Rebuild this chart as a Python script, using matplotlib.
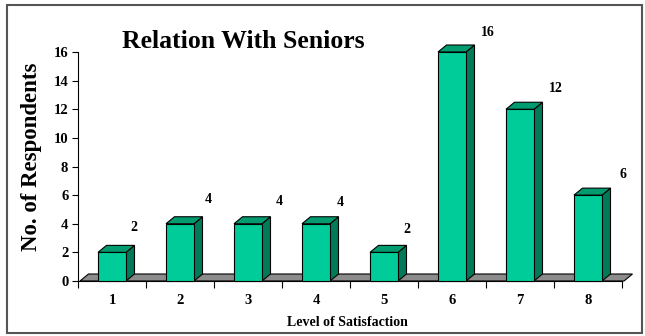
import matplotlib
matplotlib.use("Agg")
import matplotlib.pyplot as plt
from matplotlib.patches import Polygon, Rectangle

categories = ["1", "2", "3", "4", "5", "6", "7", "8"]
values = [2, 4, 4, 4, 2, 16, 12, 6]
yticks = [0, 2, 4, 6, 8, 10, 12, 14, 16]
title = "Relation With Seniors"
ylabel = "No. of Respondents"
xlabel = "Level of Satisfaction"

# label offsets in pixels (style only)
label_dx = [22, 28, 31, 24, 23, 36, 36, 35]
label_dy = [25, 24, 22, 21, 23, 19, 21, 21]

plt.rcParams['font.family'] = ['Liberation Serif', 'DejaVu Serif']
plt.rcParams['font.weight'] = 'bold'

W, H = 645, 336
fig = plt.figure(figsize=(W / 100, H / 100), dpi=100)
fig.patch.set_facecolor('white')
fig.patches.append(Rectangle((7 / W, 3 / H), 635 / W, 328 / H, transform=fig.transFigure,
                             fill=False, edgecolor='#555555', linewidth=1.5))

left, right, top, bottom = 78, 622, 52, 281
ax = fig.add_axes([left / W, 1 - bottom / H, (right - left) / W, (bottom - top) / H])
ax.set_xlim(0.5, 8.5)
ax.set_ylim(0, 16)
ax.patch.set_alpha(0)

xs = list(range(1, len(values) + 1))
px_per_x = (right - left) / 8.0
px_per_y = (bottom - top) / 16.0
ddx = 8.5 / px_per_x
ddy = 7.0 / px_per_y
bw = 28 / px_per_x

front_c = '#00CC99'
top_c = '#009C70'
side_c = '#007A58'
floor_c = '#8C8C8C'

# floor
floor = Polygon([(0.5 + 2 / px_per_x, 0), (8.5 + 2 / px_per_x, 0),
                 (8.5 + 2 / px_per_x + ddx, ddy), (0.5 + 2 / px_per_x + ddx, ddy)],
                closed=True, facecolor=floor_c, edgecolor='black', linewidth=0.8,
                clip_on=False, zorder=1)
ax.add_patch(floor)

for x, v in zip(xs, values):
    x0, x1 = x - bw / 2, x + bw / 2
    front = Polygon([(x0, 0), (x1, 0), (x1, v), (x0, v)], closed=True,
                    facecolor=front_c, edgecolor='black', linewidth=0.8, clip_on=False, zorder=4)
    topf = Polygon([(x0, v), (x1, v), (x1 + ddx, v + ddy), (x0 + ddx, v + ddy)], closed=True,
                   facecolor=top_c, edgecolor='black', linewidth=0.8, clip_on=False, zorder=3)
    side = Polygon([(x1, 0), (x1 + ddx, ddy), (x1 + ddx, v + ddy), (x1, v)], closed=True,
                   facecolor=side_c, edgecolor='black', linewidth=0.8, clip_on=False, zorder=3)
    for p in (side, topf, front):
        ax.add_patch(p)

for x, v, dx, dy in zip(xs, values, label_dx, label_dy):
    ax.annotate(str(v), xy=(x, v), xytext=(dx, dy), textcoords='offset pixels',
                ha='center', va='center', fontsize=10, fontweight='bold', annotation_clip=False)

for s in ('top', 'right'):
    ax.spines[s].set_visible(False)
ax.spines['left'].set_linewidth(0.8)
ax.spines['bottom'].set_linewidth(0.8)
ax.spines['bottom'].set_zorder(2)

ax.set_yticks(yticks)
ax.set_yticklabels([str(t) for t in yticks], fontsize=10.5, fontweight='bold')
ax.tick_params(axis='y', direction='out', length=4, width=0.8, pad=3)

ax.set_xticks(xs)
ax.set_xticklabels(categories, fontsize=10.5, fontweight='bold')
ax.set_xticks([i + 0.5 for i in range(0, 9)], minor=True)
ax.tick_params(axis='x', which='major', length=0, pad=9)
ax.tick_params(axis='x', which='minor', direction='out', length=5, width=0.8)

fig.text(243 / W, 1 - 41 / H, title, ha='center', va='center', fontsize=18.5, fontweight='bold')
fig.text(32 / W, 1 - 157 / H, ylabel, ha='center', va='center', rotation=90,
         fontsize=16.5, fontweight='bold')
fig.text(347 / W, 1 - 322 / H, xlabel, ha='center', va='center', fontsize=10, fontweight='bold')

fig.savefig('out.png', dpi=100)
